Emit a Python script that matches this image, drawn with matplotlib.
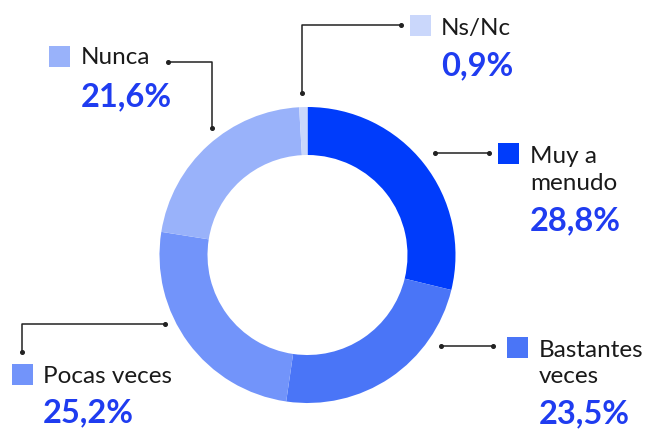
import matplotlib
matplotlib.use("Agg")
import matplotlib.pyplot as plt

categories = ["Muy a menudo", "Bastantes veces", "Pocas veces", "Nunca", "Ns/Nc"]
values = [28.8, 23.5, 25.2, 21.6, 0.9]
value_labels = ["28,8%", "23,5%", "25,2%", "21,6%", "0,9%"]
label_lines = [["Muy a", "menudo"], ["Bastantes", "veces"], ["Pocas veces"], ["Nunca"], ["Ns/Nc"]]
colors = ["#003cfb", "#4a75f7", "#7294fa", "#99b2fa", "#cad7fb"]

W, H = 646, 430
fig = plt.figure(figsize=(W / 100, H / 100), dpi=100)
ax = fig.add_axes([0, 0, 1, 1])
ax.set_xlim(0, W)
ax.set_ylim(0, H)
ax.set_aspect("equal")
ax.axis("off")

def Y(y):
    return H - y

cx, cy, R, width = 307.5, 255, 148, 48
ax.pie(values, colors=colors, startangle=90, counterclock=False,
       radius=R, center=(cx, Y(cy)),
       wedgeprops=dict(width=width, linewidth=0))
ax.set_xlim(0, W)
ax.set_ylim(0, H)

FONT = "Lato"
LINE = "#222222"
PCT = "#1f3cf0"

def leader(pts):
    xs = [p[0] for p in pts]
    ys = [Y(p[1]) for p in pts]
    ax.plot(xs, ys, color=LINE, lw=1.1, solid_capstyle="butt", zorder=3)
    ax.plot([xs[0], xs[-1]], [ys[0], ys[-1]], "o", color=LINE, ms=2.6, zorder=4)

# leader lines (pixel coords)
leaders = [
    [(435, 153), (489, 153)],
    [(441, 346), (493, 346)],
    [(165, 324), (22, 324), (22, 352)],
    [(168, 62), (212, 62), (212, 128)],
    [(302, 93), (302, 25), (401, 25)],
]
for pts in leaders:
    leader(pts)

# legend boxes: (x, y_top), text x, label baselines, pct baseline
layout = [
    ((498, 143), 530, [163, 190], 230),
    ((507, 337), 539, [357, 383], 423),
    ((12, 364), 43, [383], 422),
    ((49, 46), 81, [64], 106),
    ((410, 15), 441, [35], 75),
]
for i, ((bx, by), tx, bls, pb) in enumerate(layout):
    ax.add_patch(plt.Rectangle((bx, Y(by + 21)), 21, 21, color=colors[i], lw=0, zorder=3))
    for line, bl in zip(label_lines[i], bls):
        ax.text(tx, Y(bl), line, fontsize=17.5, family=FONT, color="#1a1a1a",
                va="baseline", ha="left")
    ax.text(tx, Y(pb), value_labels[i], fontsize=23.5, family=FONT, weight="bold",
            color=PCT, va="baseline", ha="left")

fig.savefig("out.png", dpi=100)
